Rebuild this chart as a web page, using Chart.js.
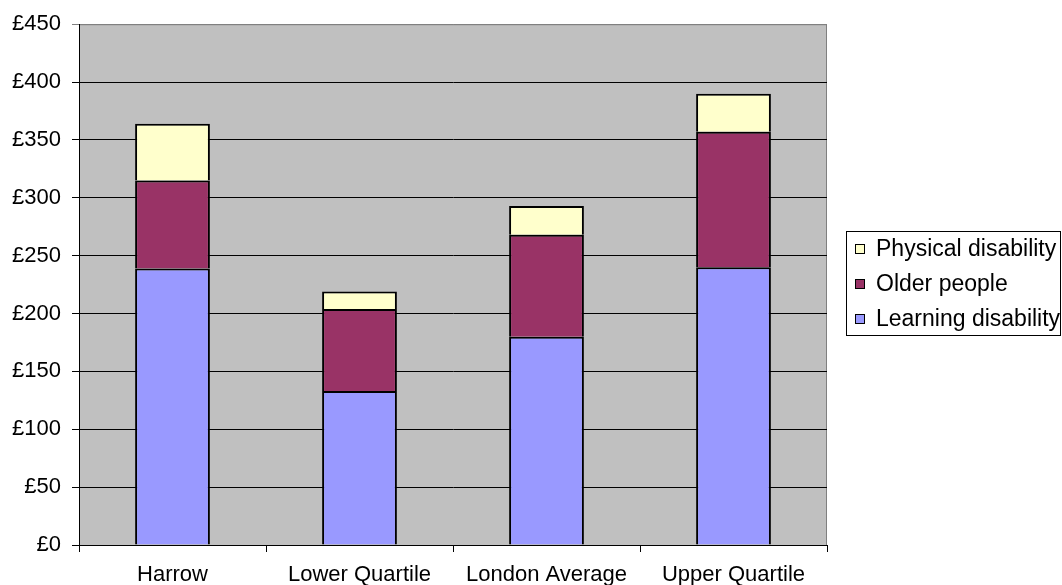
<!DOCTYPE html>
<html>
<head>
<meta charset="utf-8">
<script src="https://cdn.jsdelivr.net/npm/chart.js@4/dist/chart.umd.min.js"></script>
<style>
  html, body { margin: 0; padding: 0; background: #ffffff; }
  #wrap { width: 1062px; height: 585px; position: relative; }
</style>
</head>
<body>
<div id="wrap"><canvas id="chart" width="1062" height="585"></canvas></div>
<script>
// Weekly spend per head by client group (£)
const categories = ['Harrow', 'Lower Quartile', 'London Average', 'Upper Quartile'];
const learningDisability = [239, 133, 180, 240];
const olderPeople = [76, 71, 88, 117];
const physicalDisability = [49, 15, 25, 33];
const yTicks = [0, 50, 100, 150, 200, 250, 300, 350, 400, 450];

const FONT = '"Liberation Sans", Arial, sans-serif';

// Grey plot area with a thin border
const plotBackground = {
  id: 'plotBackground',
  beforeDraw(chart) {
    const { ctx, chartArea: a } = chart;
    ctx.save();
    ctx.fillStyle = '#c0c0c0';
    ctx.fillRect(a.left, a.top, a.right - a.left, a.bottom - a.top);
    ctx.strokeStyle = '#808080';
    ctx.lineWidth = 1;
    ctx.strokeRect(a.left + 0.5, a.top + 0.5, a.right - a.left - 1, a.bottom - a.top);
    ctx.restore();
  }
};

// Boxed legend to the right of the plot, top series first
const boxedLegend = {
  id: 'boxedLegend',
  afterDraw(chart) {
    const { ctx } = chart;
    const left = 846, top = 231, width = 214, height = 104;
    ctx.save();
    ctx.fillStyle = '#ffffff';
    ctx.fillRect(left, top, width, height);
    ctx.strokeStyle = '#000000';
    ctx.lineWidth = 1;
    ctx.strokeRect(left + 0.5, top + 0.5, width, height);
    const sets = chart.data.datasets.slice().reverse();
    ctx.font = '23px ' + FONT;
    ctx.textBaseline = 'middle';
    sets.forEach((ds, i) => {
      const cy = 249 + i * 35;
      ctx.fillStyle = ds.backgroundColor;
      ctx.fillRect(855.5, cy - 4.5, 9, 9);
      ctx.strokeStyle = '#000000';
      ctx.strokeRect(855.5, cy - 4.5, 9, 9);
      ctx.fillStyle = '#000000';
      ctx.fillText(ds.label, 876, cy + 1);
    });
    ctx.restore();
  }
};

new Chart(document.getElementById('chart'), {
  type: 'bar',
  data: {
    labels: categories,
    datasets: [
      { label: 'Learning disability', data: learningDisability, backgroundColor: '#9999ff' },
      { label: 'Older people', data: olderPeople, backgroundColor: '#993366' },
      { label: 'Physical disability', data: physicalDisability, backgroundColor: '#ffffcc' }
    ]
  },
  plugins: [plotBackground, boxedLegend],
  options: {
    responsive: false,
    animation: false,
    events: [],
    layout: { padding: { top: 24, right: 235, left: 0, bottom: 0 } },
    datasets: {
      bar: {
        borderColor: '#000000',
        borderWidth: 2,
        categoryPercentage: 1,
        barPercentage: 0.4
      }
    },
    plugins: {
      legend: { display: false },
      tooltip: { enabled: false }
    },
    scales: {
      x: {
        stacked: true,
        grid: {
          offset: true,
          drawOnChartArea: false,
          drawTicks: true,
          tickLength: 7,
          color: '#000000'
        },
        border: { color: '#000000', width: 1 },
        ticks: {
          color: '#000000',
          font: { family: FONT, size: 22 },
          padding: 10,
          maxRotation: 0,
          autoSkip: false
        },
        afterFit(scale) { scale.height = 40; }
      },
      y: {
        stacked: true,
        min: 0,
        max: 450,
        afterBuildTicks(scale) { scale.ticks = yTicks.map(v => ({ value: v })); },
        grid: {
          color: (c) => (c.tick && c.tick.value === 450 ? '#808080' : '#000000'),
          lineWidth: 1,
          tickLength: 7,
          drawTicks: true
        },
        border: { color: '#000000', width: 1 },
        ticks: {
          color: '#000000',
          font: { family: FONT, size: 22 },
          padding: 11,
          callback: (v) => '£' + v
        },
        afterFit(scale) { scale.width = 79; }
      }
    }
  }
});
</script>
</body>
</html>
